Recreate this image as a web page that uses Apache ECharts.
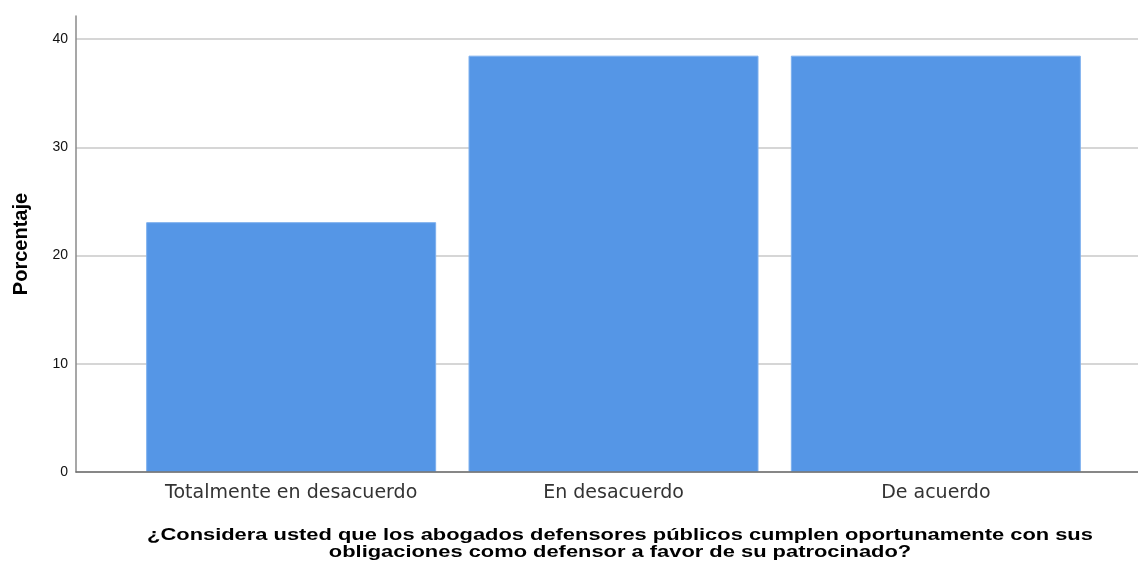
<!DOCTYPE html>
<html><head><meta charset="utf-8">
<script src="https://cdn.jsdelivr.net/npm/echarts@6/dist/echarts.min.js"></script>
<style>html,body{margin:0;padding:0;background:#fff}#c{width:1138px;height:563px}</style>
</head><body><div id="c"></div>
<script>
const categories = ['Totalmente en desacuerdo', 'En desacuerdo', 'De acuerdo'];
const percentages = [23.08, 38.46, 38.46];
const yMin = 0, yMax = 40, yStep = 10;
const yTitle = 'Porcentaje';
const xTitle = '¿Considera usted que los abogados defensores públicos cumplen oportunamente con sus\nobligaciones como defensor a favor de su patrocinado?';

const chart = echarts.init(document.getElementById('c'));
const plotTop = 39, plotBottom = 91;
chart.setOption({
  animation: false,
  textStyle: { fontFamily: 'Liberation Sans, Arial, sans-serif' },
  grid: [
    { left: 76, right: 0, top: 16, bottom: plotBottom },
    { left: 76, right: 0, top: plotTop, bottom: plotBottom },
    { left: 130, right: 41, top: plotTop, bottom: plotBottom }
  ],
  xAxis: [
    { gridIndex: 0, type: 'value', min: 0, max: 1, axisLabel: { show: false }, axisTick: { show: false },
      splitLine: { show: false }, axisLine: { show: true, lineStyle: { color: '#6e6e6e', width: 1.5 } }, z: 5 },
    { gridIndex: 1, type: 'value', min: 0, max: 1, show: false },
    { gridIndex: 2, type: 'category', data: categories, axisLine: { show: false }, axisTick: { show: false },
      axisLabel: { color: '#333', fontSize: 19, margin: 12, fontFamily: 'DejaVu Sans', interval: 0, hideOverlap: false } }
  ],
  yAxis: [
    { gridIndex: 0, type: 'value', min: 0, max: 1,
      axisLine: { show: true, lineStyle: { color: '#8a8a8a', width: 1.5 } },
      axisTick: { show: false }, axisLabel: { show: false }, splitLine: { show: false } },
    { gridIndex: 1, type: 'value', min: yMin, max: yMax, interval: yStep,
      axisLine: { show: false }, axisTick: { show: false },
      axisLabel: { color: '#111', fontSize: 14, margin: 8 },
      splitLine: { show: true, lineStyle: { color: '#c8c8c8', width: 1.5 } } },
    { gridIndex: 2, type: 'value', min: yMin, max: yMax, show: false }
  ],
  series: [{
    type: 'bar', xAxisIndex: 2, yAxisIndex: 2, data: percentages, barWidth: 290,
    itemStyle: { color: '#5596e6', borderColor: '#7eb0ee', borderWidth: 1 }
  }],
  graphic: [
    { type: 'text', x: 21, y: 244, rotation: Math.PI / 2, style: {
      text: yTitle, font: 'bold 20px "Liberation Sans", Arial, sans-serif', fill: '#000',
      textAlign: 'center', textVerticalAlign: 'middle' } },
    { type: 'text', x: 620, y: 544, scaleX: 1.287, style: {
      text: xTitle, font: 'bold 17px "Liberation Sans", Arial, sans-serif', fill: '#000',
      textAlign: 'center', textVerticalAlign: 'middle', lineHeight: 17 } }
  ]
});
</script></body></html>
